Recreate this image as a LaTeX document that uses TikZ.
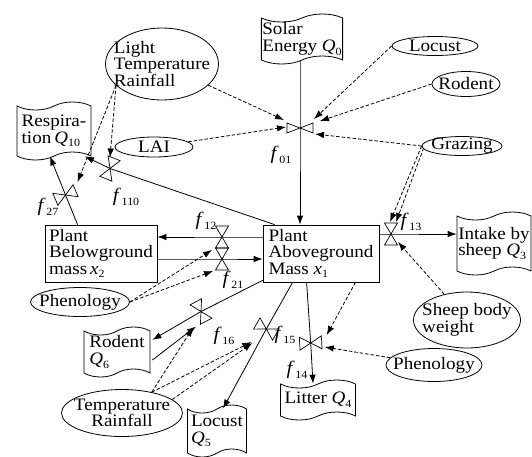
\documentclass[tikz,border=0pt]{standalone}
\usepackage{fontspec}
\setmainfont{Liberation Serif}[FakeStretch=1.09]
\usetikzlibrary{shapes.geometric,shapes.symbols,arrows.meta,calc}
\newcommand\sbs[1]{\raisebox{-0.45ex}{\fontsize{11}{11}\selectfont #1}}
\newcommand\fl[1]{{\fontsize{19}{19}\selectfont\textit{f}}\kern0.8pt\sbs{#1}}
\begin{document}
\begin{tikzpicture}[x=1pt,y=-1pt,
  every node/.style={font=\fontsize{17.5}{16.5}\selectfont},
  stock/.style={draw,rectangle,line width=0.8pt,align=left,inner sep=2pt},
  doc/.style={draw,tape,tape bend height=8pt,line width=0.8pt,align=left,inner xsep=1pt,inner ysep=0pt},
  oval/.style={draw,ellipse,line width=0.8pt,align=left,inner xsep=-20pt,inner ysep=-10pt},
  lbl/.style={inner sep=0pt},
  flow/.style={line width=0.8pt,-{Latex[length=9pt,width=6.5pt]}},
  info/.style={flow,dash pattern=on 3.5pt off 2pt},
  valve/.pic={\draw[line width=0.7pt] (-6.5,11)--(6.5,11)--(-6.5,-11)--(6.5,-11)--cycle;},
  flatvalve/.pic={\draw[line width=0.7pt] (-5,13)--(5,13)--(-5,-13)--(5,-13)--cycle;}
]
\useasboundingbox (0,0) rectangle (532,456);

% stocks, sources and sinks
\node[doc,minimum width=80pt,minimum height=50pt] (solar) at (302,39) {Solar\\Energy \textit{Q}\sbs{0}};
\node[oval,minimum width=86pt,minimum height=19pt] (locust) at (435,46) {Locust};
\node[oval,minimum width=68pt,minimum height=25pt] (rodent) at (466,84) {Rodent};
\node[oval,minimum width=80pt,minimum height=19pt] (grazing) at (462,146) {Grazing};
\node[oval,minimum width=113pt,minimum height=72pt] (ltr) at (162,64) {Light\\Temperature\\Rainfall};
\node[doc,minimum width=74pt,minimum height=58pt] (resp) at (54,131) {Respira-\\tion\,\textit{Q}\sbs{10}};
\node[oval,minimum width=78pt,minimum height=20pt] (lai) at (154,147) {LAI};
\node[stock,minimum width=116pt,minimum height=57pt] (above) at (321,253.5) {Plant\\Aboveground\\Mass \textit{x}\sbs{1}};
\node[stock,minimum width=112pt,minimum height=57pt] (below) at (101,253.5) {Plant\\Belowground\\mass\,\textit{x}\sbs{2}};
\node[doc,minimum width=74pt,minimum height=63pt] (intake) at (494,243.5) {Intake by\\sheep \textit{Q}\sbs{3}};
\node[oval,minimum width=107pt,minimum height=56pt] (sheep) at (467,320) {Sheep body\\weight};
\node[oval,minimum width=96pt,minimum height=33pt] (phenR) at (434,365) {Phenology};
\node[doc,minimum width=75pt,minimum height=40pt] (litter) at (318,400) {Litter \textit{Q}\sbs{4}};
\node[oval,minimum width=99pt,minimum height=29pt] (phenL) at (80,302) {Phenology};
\node[doc,minimum width=66pt,minimum height=50pt] (rodQ) at (117,352) {Rodent\\\textit{Q}\sbs{6}};
\node[oval,align=center,minimum width=121pt,minimum height=47pt] (tr) at (122,413) {Temperature\\Rainfall};
\node[doc,minimum width=59pt,minimum height=52pt] (locQ) at (217,431) {Locust\\\textit{Q}\sbs{5}};

% valve positions
\coordinate (v01) at (300,128);
\coordinate (v12) at (222,237);
\coordinate (v21) at (222,259);
\coordinate (v13) at (391,234);
\coordinate (v110) at (110,168.5);
\coordinate (v27) at (65.5,195);
\coordinate (vrod) at (201,311.5);
\coordinate (vloc) at (266.3,329);
\coordinate (v14) at (310.7,343);

% material flows
\draw[flow] (v01 |- solar.south) -- (v01) -- (v01 |- above.north);
\draw[flow] (above.west |- v12) -- (v12) -- (below.east |- v12);
\draw[flow] (below.east |- v21) -- (v21) -- (above.west |- v21);
\draw[flow] (above.east |- v13) -- (v13) -- (intake.west |- v13);
\draw[flow] ($(above.north west)+(12,0)$) -- (v110) -- ($(resp.south)+(31,0)$);
\draw[flow] ($(below.north west)+(33,0)$) -- (v27) -- ($(resp.south)+(-4,0)$);
\draw[flow] ($(above.south west)+(0,-2)$) -- (vrod) -- ($(rodQ.north east)+(2,9)$);
\draw[flow] ($(rodQ.east)+(2,8)$) -- ($(vrod)+(-5,15)$);
\draw[flow] ($(above.south west)+(30,0)$) -- (vloc) -- ($(locQ.north)+(6,0)$);
\draw[flow] ($(above.south west)+(44,0)$) -- (v14) -- ($(litter.north)+(-5,0)$);

% information links
\draw[info] (ltr) -- ($(v01)+(-16,-8)$);
\draw[info] (lai) -- ($(v01)+(-14,-1)$);
\draw[info] (locust.west) -- ($(v01)+(14,-9)$);
\draw[info] (rodent.west) -- ($(v01)+(20,-7)$);
\draw[info] (grazing.west) -- ($(v01)+(15,6)$);
\draw[info] (grazing.west) -- ($(v13)+(-1,-12)$);
\draw[info] ($(grazing.west)+(2,2)$) -- ($(v13)+(5,-12)$);
\draw[info] (sheep) -- ($(v13)+(7,8)$);
\draw[info] (phenL.east) -- ($(v12)+(-10,13)$);
\draw[info] (phenL.east) -- ($(v21)+(-9,12)$);
\draw[info] ($(above.south east)+(-24,0)$) -- ($(v14)+(16,-8)$);
\draw[info] (phenR) -- ($(v14)+(14,4)$);
\draw[info] (ltr.205) -- ($(v110)+(0,-11)$);
\draw[info] (ltr.205) -- ($(v27)+(12,-13)$);
\draw[info] (tr.35) -- ($(vrod)+(-8,16)$);
\draw[info] (tr.35) -- ($(vloc)+(-15,13)$);
\draw[info] (tr.15) -- ($(vloc)+(-14,14)$);

% valves
\pic[rotate=90] at (v01) {flatvalve};
\pic at (v12) {valve};
\pic at (v21) {valve};
\pic at (v13) {valve};
\pic[rotate=-22] at (v110) {valve};
\pic[rotate=-67] at (v27) {valve};
\pic[rotate=28] at (vrod) {valve};
\pic[rotate=60] at (vloc) {valve};
\pic[rotate=-86.5] at (v14) {valve};

% valve labels
\node[lbl] (l01) at (281,155) {\fl{01}};
\node[lbl] (l110) at (126,197) {\fl{110}};
\node[lbl] (l27) at (48,207) {\fl{27}};
\node[lbl] (l12) at (206,221) {\fl{12}};
\node[lbl] (l21) at (233,280) {\fl{21}};
\node[lbl] (l13) at (411,222) {\fl{13}};
\node[lbl] (l14) at (297,370) {\fl{14}};
\node[lbl] (l16) at (224,336) {\fl{16}};
\node[lbl] (l15) at (285,335) {\fl{15}};
\end{tikzpicture}
\end{document}
